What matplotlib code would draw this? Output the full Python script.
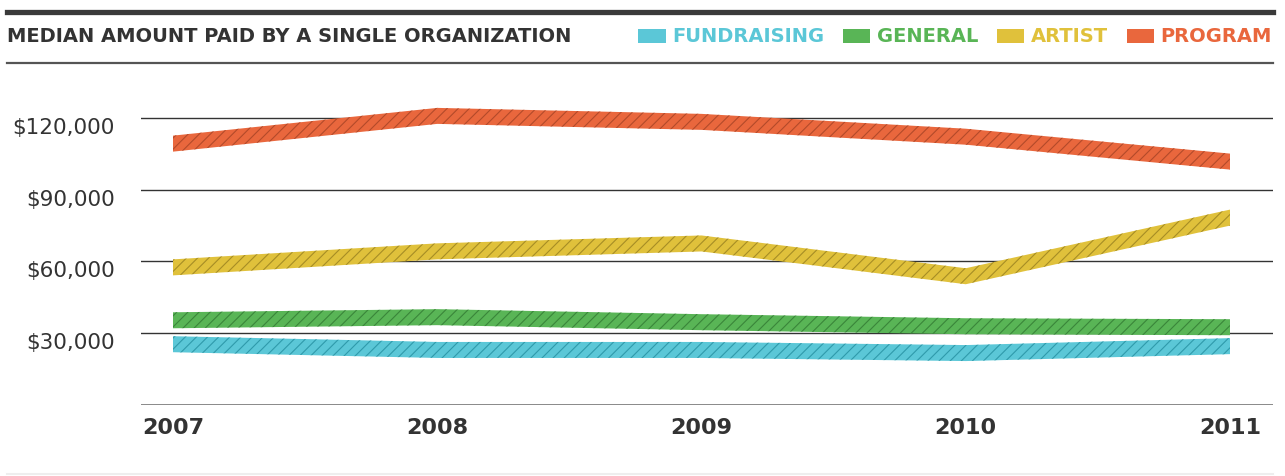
import matplotlib
matplotlib.use("Agg")
import matplotlib.pyplot as plt
import numpy as np
from matplotlib.lines import Line2D
from matplotlib.patches import Patch

# data
years = [2007, 2008, 2009, 2010, 2011]
fundraising = [25400, 23000, 23000, 21700, 24600]
general = [35400, 36700, 34600, 32900, 32500]
artist = [57500, 64200, 67500, 53800, 78300]
program = [109200, 120800, 118300, 112100, 101700]

series_names = ['FUNDRAISING', 'GENERAL', 'ARTIST', 'PROGRAM']
series_values = [fundraising, general, artist, program]
series_colors = ['#5bc7d7', '#59b556', '#e0c13b', '#e9673d']
hatch_colors = ['#2f9aab', '#3a853a', '#a68d25', '#b34a2a']

y_ticks = [30000, 60000, 90000, 120000]
y_labels = ['${:,}'.format(v) for v in y_ticks]
title = 'MEDIAN AMOUNT PAID BY A SINGLE ORGANIZATION'

TEXT = '#333333'
W, H = 1285, 476
plt.rcParams['font.family'] = ['DejaVu Sans']
plt.rcParams['hatch.linewidth'] = 0.8

fig = plt.figure(figsize=(W / 100, H / 100), dpi=100)
ax = fig.add_axes([141 / W, (H - 405) / H, (1273 - 141) / W, (405 - 90) / H])

ymax = (405 - 90) / 71.8 * 30000
ax.set_ylim(0, ymax)
ax.set_xlim(2007 - 32 / 264.25, 2011 + 43 / 264.25)

# band half thickness: 8 px in data units
half = 8 / (405 - 90) * ymax
x = np.array(years)
for vals, col, hc in zip(series_values, series_colors, hatch_colors):
    y = np.array(vals)
    ax.fill_between(x, y - half, y + half, facecolor=col, edgecolor=hc,
                    hatch='///', linewidth=0, zorder=3)

ax.set_yticks(y_ticks)
ax.set_yticklabels(y_labels, fontsize=15.5, color=TEXT, va='top')
ax.set_xticks(years)
ax.set_xticklabels([str(v) for v in years], fontsize=16, fontweight='bold', color=TEXT)
ax.tick_params(axis='y', length=0, pad=19)
ax.tick_params(axis='x', length=0, pad=9)
ax.yaxis.grid(True, color='#333333', linewidth=1.0, zorder=1)
ax.set_axisbelow(True)
ax.axhline(0, color='#666666', linewidth=1.8, zorder=2)
for s in ax.spines.values():
    s.set_visible(False)

# header rules
def hline(ypx, lw, color, x0=7, x1=1273):
    fig.add_artist(Line2D([x0 / W, x1 / W], [1 - ypx / H, 1 - ypx / H],
                          transform=fig.transFigure, color=color, linewidth=lw))

hline(11.5, 3.8, '#3a3a3a')
hline(63, 1.6, '#555555')
hline(474, 1.5, '#eeeeee')

fig.text(7 / W, 1 - 37 / H, title, fontsize=14, fontweight='bold', color=TEXT,
         ha='left', va='center')

handles = [Patch(facecolor=c, edgecolor='none', label=n)
           for n, c in zip(series_names, series_colors)]
fig.legend(handles=handles, loc='center right', bbox_to_anchor=(1272 / W, 1 - 37 / H),
           ncol=4, frameon=False, labelcolor=series_colors,
           prop={'weight': 'bold', 'size': 14}, handlelength=1.4, handleheight=0.7,
           handletextpad=0.35, columnspacing=0.95, borderpad=0, borderaxespad=0)

fig.savefig('out.png', dpi=100)
